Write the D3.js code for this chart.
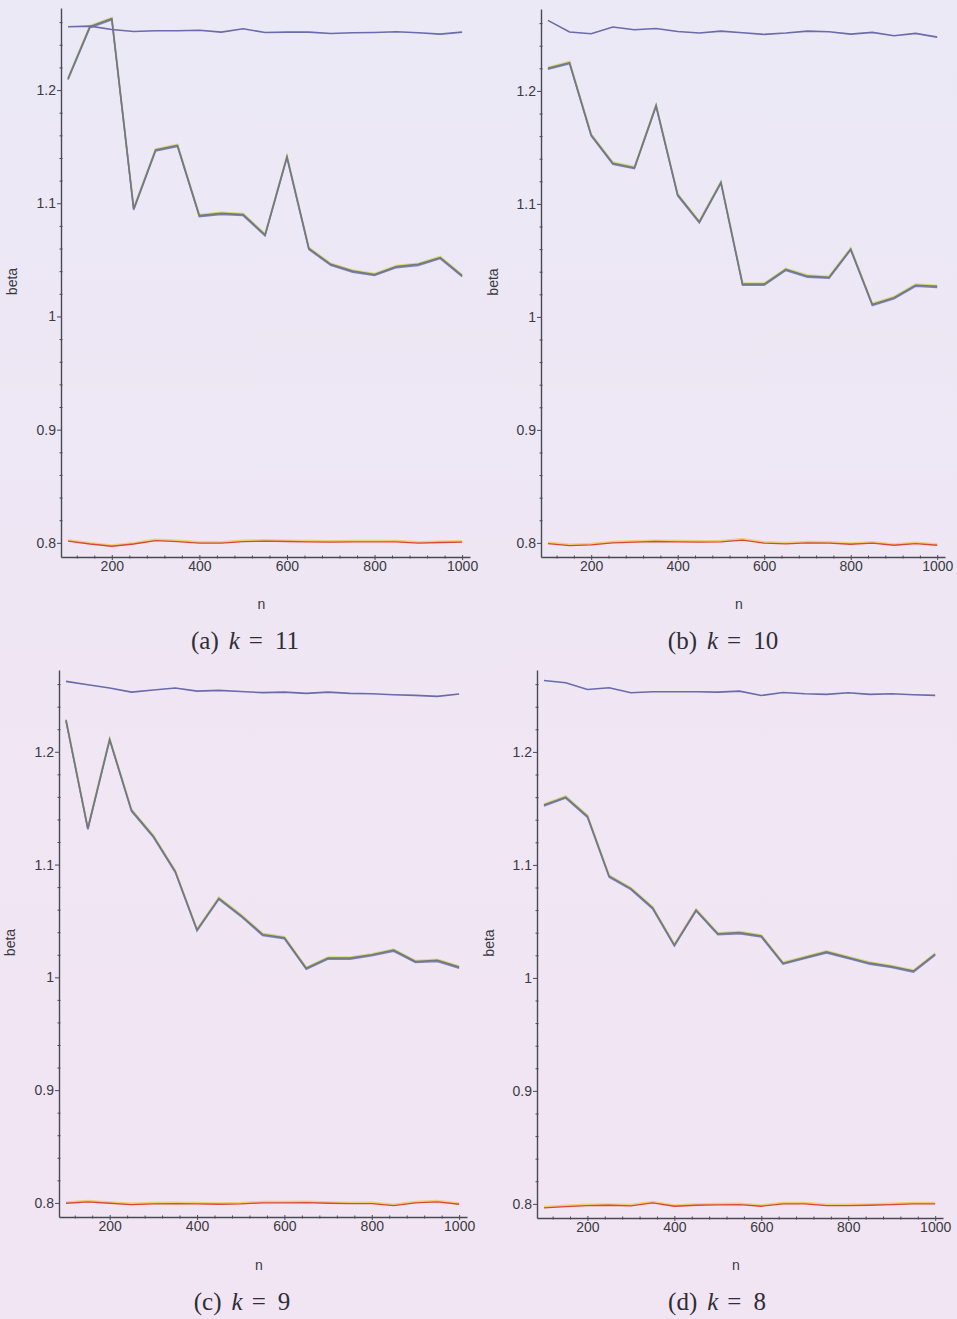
<!DOCTYPE html>
<html>
<head>
<meta charset="utf-8">
<script src="https://cdn.jsdelivr.net/npm/d3@7"></script>
<style>
  html, body { margin: 0; padding: 0; }
  body { width: 957px; height: 1319px; overflow: hidden; }
  text { font-family: "Liberation Sans", Arial, sans-serif; }
  .caption { font-family: "Liberation Serif", "DejaVu Serif", serif; }
</style>
</head>
<body>
<svg id="fig" width="957" height="1319"></svg>
<script>
// sample sizes
const nValues = [100, 150, 200, 250, 300, 350, 400, 450, 500, 550, 600, 650, 700, 750, 800, 850, 900, 950, 1000];

const xTicks = [200, 400, 600, 800, 1000];
const yTicks = [0.8, 0.9, 1, 1.1, 1.2];

// (a) k = 11
const topA = [1.2559, 1.2565, 1.2535, 1.2518, 1.2524, 1.2524, 1.2529, 1.2512, 1.2541, 1.2509, 1.2512, 1.2512, 1.2500, 1.2506, 1.2509, 1.2515, 1.2506, 1.2494, 1.2512];
const midA = [1.210, 1.256, 1.263, 1.095, 1.147, 1.151, 1.089, 1.091, 1.090, 1.072, 1.141, 1.060, 1.046, 1.040, 1.037, 1.044, 1.046, 1.052, 1.036];
const lowA = [0.8015, 0.7990, 0.7970, 0.7990, 0.8020, 0.8010, 0.7997, 0.7997, 0.8010, 0.8015, 0.8012, 0.8009, 0.8006, 0.8009, 0.8009, 0.8009, 0.7997, 0.8003, 0.8006];

// (b) k = 10
const topB = [1.2624, 1.2521, 1.2506, 1.2565, 1.2541, 1.2553, 1.2526, 1.2512, 1.2529, 1.2515, 1.2500, 1.2512, 1.2529, 1.2524, 1.2503, 1.2518, 1.2488, 1.2509, 1.2476];
const midB = [1.220, 1.225, 1.161, 1.136, 1.132, 1.187, 1.108, 1.084, 1.119, 1.029, 1.029, 1.042, 1.036, 1.035, 1.060, 1.011, 1.017, 1.028, 1.027];
const lowB = [0.7994, 0.7976, 0.7982, 0.8000, 0.8006, 0.8012, 0.8009, 0.8006, 0.8009, 0.8024, 0.7997, 0.7991, 0.8000, 0.7997, 0.7988, 0.7997, 0.7979, 0.7994, 0.7979];

// (c) k = 9
const topC = [1.2624, 1.2594, 1.2565, 1.2529, 1.2547, 1.2565, 1.2538, 1.2544, 1.2535, 1.2524, 1.2529, 1.2518, 1.2529, 1.2518, 1.2515, 1.2506, 1.2500, 1.2491, 1.2512];
const midC = [1.228, 1.132, 1.211, 1.148, 1.125, 1.094, 1.042, 1.070, 1.055, 1.038, 1.035, 1.008, 1.017, 1.017, 1.020, 1.024, 1.014, 1.015, 1.009];
const lowC = [0.7997, 0.8009, 0.7997, 0.7985, 0.7991, 0.7994, 0.7991, 0.7988, 0.7991, 0.8000, 0.8000, 0.8003, 0.7997, 0.7994, 0.7994, 0.7976, 0.8000, 0.8009, 0.7988];

// (d) k = 8
const topD = [1.2632, 1.2612, 1.2553, 1.2568, 1.2524, 1.2532, 1.2532, 1.2532, 1.2529, 1.2538, 1.2500, 1.2526, 1.2515, 1.2509, 1.2524, 1.2509, 1.2515, 1.2506, 1.2500];
const midD = [1.153, 1.160, 1.143, 1.090, 1.079, 1.062, 1.029, 1.060, 1.039, 1.040, 1.037, 1.013, 1.018, 1.023, 1.018, 1.013, 1.010, 1.006, 1.021];
const lowD = [0.7965, 0.7976, 0.7985, 0.7988, 0.7982, 0.8009, 0.7979, 0.7988, 0.7991, 0.7994, 0.7979, 0.8000, 0.8000, 0.7985, 0.7985, 0.7988, 0.7994, 0.8000, 0.8000];

const panels = [
  {label: "(a)", k: "11", top: topA, mid: midA, low: lowA, left: 61, y0: 8, w: 409, h: 549, capX: 245, capY: 649, nY: 609, betaX: 17},
  {label: "(b)", k: "10", top: topB, mid: midB, low: lowB, left: 541, y0: 9, w: 404, h: 548, capX: 723, capY: 649, nY: 609, betaX: 498},
  {label: "(c)", k: "9", top: topC, mid: midC, low: lowC, left: 59, y0: 670, w: 408, h: 547, capX: 242, capY: 1310, nY: 1270, betaX: 15},
  {label: "(d)", k: "8", top: topD, mid: midD, low: lowD, left: 537, y0: 670, w: 406, h: 548, capX: 717, capY: 1310, nY: 1270, betaX: 494}
];

const svg = d3.select("#fig");

// scanned-paper background
const grad = svg.append("defs").append("linearGradient")
  .attr("id", "bg").attr("x1", 0).attr("y1", 0).attr("x2", 0).attr("y2", 1);
grad.append("stop").attr("offset", "0%").attr("stop-color", "#ebe9f6");
grad.append("stop").attr("offset", "45%").attr("stop-color", "#efe6f4");
grad.append("stop").attr("offset", "100%").attr("stop-color", "#f2e5f3");
svg.append("rect").attr("width", 957).attr("height", 1319).attr("fill", "url(#bg)");

const axisColor = "#4a4a55";
const textColor = "#3a3a42";

panels.forEach(p => {
  const x = d3.scaleLinear().domain([84, 1018]).range([0, p.w]);
  const y = d3.scaleLinear().domain([0.7875, 1.2725]).range([p.h, 0]);

  const g = svg.append("g").attr("transform", `translate(${p.left},${p.y0})`);

  // minor ticks
  const xMinor = d3.range(120, 1001, 40).filter(v => !xTicks.includes(v));
  const yMinor = d3.range(0.8, 1.27, 0.02).filter(v => !yTicks.some(t => Math.abs(t - v) < 1e-6));

  g.append("g").attr("transform", `translate(0,${p.h})`)
    .call(d3.axisBottom(x).tickValues(xMinor).tickSize(3).tickFormat(""))
    .call(a => a.select(".domain").remove())
    .call(a => a.selectAll("line").attr("stroke", axisColor).attr("y1", -1.5).attr("y2", 1.5));

  g.append("g")
    .call(d3.axisLeft(y).tickValues(yMinor).tickSize(3).tickFormat(""))
    .call(a => a.select(".domain").remove())
    .call(a => a.selectAll("line").attr("stroke", axisColor).attr("x1", -1.5).attr("x2", 1.5));

  // major axes
  const xa = g.append("g").attr("transform", `translate(0,${p.h})`)
    .call(d3.axisBottom(x).tickValues(xTicks).tickSize(4).tickSizeOuter(0).tickFormat(d3.format("d")));
  xa.select(".domain").attr("stroke", axisColor).attr("stroke-width", 1.4);
  xa.selectAll("line").attr("stroke", axisColor).attr("y1", -2).attr("y2", 3);
  xa.selectAll("text").attr("fill", textColor).attr("font-size", 14).attr("dy", "0.5em");

  const ya = g.append("g")
    .call(d3.axisLeft(y).tickValues(yTicks).tickSize(4).tickSizeOuter(0).tickFormat(d => String(+d.toFixed(1))));
  ya.select(".domain").attr("stroke", axisColor).attr("stroke-width", 1.4);
  ya.selectAll("line").attr("stroke", axisColor).attr("x1", -4).attr("x2", 1);
  ya.selectAll("text").attr("fill", textColor).attr("font-size", 14).attr("x", -5);

  const line = d3.line().x((d, i) => x(nValues[i])).y(d => y(d));

  // middle estimator: overlapping yellow / blue / grey traces
  g.append("path").attr("d", line(p.mid)).attr("fill", "none")
    .attr("stroke", "#d6d878").attr("stroke-width", 1.8).attr("transform", "translate(0,-1)");
  g.append("path").attr("d", line(p.mid)).attr("fill", "none")
    .attr("stroke", "#7a84c4").attr("stroke-width", 1.5).attr("transform", "translate(0,1)");
  g.append("path").attr("d", line(p.mid)).attr("fill", "none")
    .attr("stroke", "#747980").attr("stroke-width", 1.7);

  // top estimator
  g.append("path").attr("d", line(p.top)).attr("fill", "none")
    .attr("stroke", "#6a6aac").attr("stroke-width", 1.6);

  // bottom estimators (yellow under red)
  g.append("path").attr("d", line(p.low)).attr("fill", "none")
    .attr("stroke", "#f0d070").attr("stroke-width", 2.2).attr("transform", "translate(0,-1)");
  g.append("path").attr("d", line(p.low)).attr("fill", "none")
    .attr("stroke", "#d9473c").attr("stroke-width", 1.3);

  // axis titles
  svg.append("text").attr("transform", `translate(${p.betaX},${p.y0 + p.h / 2 - 1}) rotate(-90)`)
    .attr("text-anchor", "middle").attr("font-size", 14).attr("fill", textColor).text("beta");
  svg.append("text").attr("x", p.left + p.w / 2 - 4).attr("y", p.nY)
    .attr("text-anchor", "middle").attr("font-size", 14).attr("fill", textColor).text("n");

  // caption
  const cap = svg.append("text").attr("class", "caption")
    .attr("x", p.capX).attr("y", p.capY).attr("text-anchor", "middle")
    .attr("font-size", 25).attr("fill", "#2e2e36");
  cap.append("tspan").text(p.label);
  cap.append("tspan").attr("dx", 10).attr("font-style", "italic").text("k");
  cap.append("tspan").attr("dx", 9).text("=");
  cap.append("tspan").attr("dx", 12).text(p.k);
});
</script>
</body>
</html>
